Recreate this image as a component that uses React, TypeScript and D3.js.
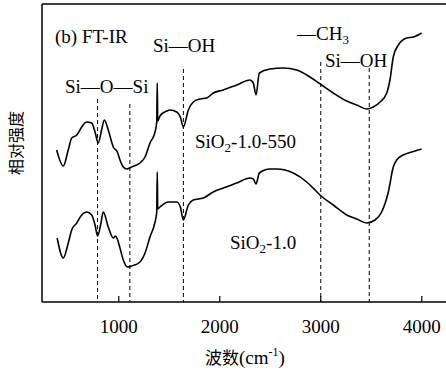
import React from "react";
import * as d3 from "d3";

// ---- data ----
const wn550 = [385, 451, 500, 534, 584, 633, 683, 732, 765, 797, 830, 857, 896, 946, 986, 1012, 1045, 1079, 1128, 1210, 1260, 1309, 1359, 1376, 1381, 1386, 1408, 1475, 1507, 1574, 1610, 1639, 1689, 1738, 1804, 1871, 1936, 2035, 2168, 2299, 2332, 2359, 2392, 2497, 2629, 2762, 2893, 3009, 3124, 3257, 3356, 3455, 3520, 3587, 3653, 3685, 3718, 3768, 3851, 3917, 3999];
const int550 = [152, 136, 152, 164, 167, 175, 180, 179, 170, 159, 172, 182, 172, 155, 150, 142, 135, 133, 135, 139, 145, 159, 170, 180, 219, 181, 186, 191, 192, 190, 185, 175, 192, 200, 203, 204, 209, 212, 217, 222, 219, 207, 229, 233, 234, 232, 225, 217, 209, 201, 197, 193, 195, 200, 209, 222, 245, 257, 264, 265, 269];

const wn10 = [390, 451, 500, 534, 584, 633, 683, 732, 765, 791, 820, 847, 896, 946, 966, 986, 1012, 1045, 1085, 1128, 1210, 1260, 1309, 1359, 1376, 1381, 1386, 1408, 1490, 1574, 1610, 1639, 1689, 1738, 1837, 1936, 2035, 2168, 2299, 2332, 2359, 2392, 2497, 2564, 2728, 2861, 2943, 2992, 3124, 3257, 3356, 3455, 3537, 3603, 3669, 3718, 3752, 3817, 3900, 3999];
const int10 = [64, 44, 59, 72, 79, 87, 90, 87, 77, 66, 77, 90, 75, 64, 66, 63, 54, 42, 35, 36, 40, 49, 65, 80, 90, 130, 93, 95, 100, 100, 95, 82, 97, 102, 104, 110, 114, 119, 124, 123, 118, 129, 133, 133, 129, 120, 112, 107, 97, 87, 83, 79, 82, 90, 110, 135, 142, 147, 150, 153];

const markerWn = [790, 1110, 1640, 3000, 3480];
const markerTop = [203, 198, 233, 240, 234];

const xTicks = [1000, 2000, 3000, 4000];

const W = 446;
const H = 371;
const M = { left: 42, top: 4, right: 446, bottom: 302 };

const SERIF = "Liberation Serif";
const CJK = "Noto Sans CJK SC";

export default function App() {
  const x = d3.scaleLinear().domain([240, 4240]).range([M.left, M.right]);
  const y = d3.scaleLinear().domain([0, 298]).range([M.bottom, M.top]);

  const line = d3
    .line<[number, number]>()
    .x((d) => x(d[0]))
    .y((d) => y(d[1]))
    .curve(d3.curveMonotoneX);

  const s550 = wn550.map((v, i) => [v, int550[i]] as [number, number]);
  const s10 = wn10.map((v, i) => [v, int10[i]] as [number, number]);

  const fs = 19;
  const sub = 13;

  return (
    <svg width={W} height={H} style={{ position: "absolute", left: 0, top: 0 }}>
      <rect x={0} y={0} width={W} height={H} fill="#fff" />

      <text x={55} y={43} fontFamily={SERIF} fontSize={fs} fill="#000">(b) FT-IR</text>
      <text x={153} y={52} fontFamily={SERIF} fontSize={fs} fill="#000">Si—OH</text>
      <text x={65} y={93} fontFamily={SERIF} fontSize={fs} fill="#000">Si—O—Si</text>
      <text x={297} y={40} fontFamily={SERIF} fontSize={fs} fill="#000">
        —CH<tspan fontFamily={SERIF} fontSize={sub} dy={4}>3</tspan>
      </text>
      <text x={325} y={67} fontFamily={SERIF} fontSize={fs} fill="#000">Si—OH</text>
      <text x={195} y={148} fontFamily={SERIF} fontSize={fs} fill="#000">
        SiO<tspan fontFamily={SERIF} fontSize={sub} dy={4}>2</tspan>
        <tspan fontFamily={SERIF} fontSize={fs} dy={-4}>-1.0-550</tspan>
      </text>
      <text x={230} y={249} fontFamily={SERIF} fontSize={fs} fill="#000">
        SiO<tspan fontFamily={SERIF} fontSize={sub} dy={4}>2</tspan>
        <tspan fontFamily={SERIF} fontSize={fs} dy={-4}>-1.0</tspan>
      </text>

      {xTicks.map((t) => (
        <text key={"l" + t} x={x(t)} y={333} textAnchor="middle" fontFamily={SERIF} fontSize={fs} fill="#000">
          {String(t)}
        </text>
      ))}

      <text x={205} y={364} fontFamily={CJK} fontSize={17} fill="#000">波数</text>
      <text x={239} y={364} fontFamily={SERIF} fontSize={fs} fill="#000">
        (cm<tspan fontFamily={SERIF} fontSize={12} dy={-8}>-1</tspan>
        <tspan fontFamily={SERIF} fontSize={fs} dy={8}>)</tspan>
      </text>
      <text
        transform="translate(22,143) rotate(-90)"
        textAnchor="middle"
        fontFamily={CJK}
        fontSize={16}
        fill="#000"
      >
        相对强度
      </text>

      {markerWn.map((v, i) => (
        <line
          key={i}
          x1={x(v)}
          x2={x(v)}
          y1={y(markerTop[i])}
          y2={M.bottom}
          stroke="#000"
          strokeWidth={1}
          strokeDasharray="4 3"
        />
      ))}
      <path d={line(s550) || ""} fill="none" stroke="#000" strokeWidth={1.6} strokeLinejoin="round" />
      <path d={line(s10) || ""} fill="none" stroke="#000" strokeWidth={1.6} strokeLinejoin="round" />

      <line x1={M.left} x2={M.left} y1={M.top} y2={M.bottom} stroke="#000" strokeWidth={1.5} />
      <line x1={M.left} x2={W} y1={M.top} y2={M.top} stroke="#000" strokeWidth={1.5} />
      <line x1={M.left} x2={W} y1={M.bottom} y2={M.bottom} stroke="#000" strokeWidth={1.5} />

      {xTicks.map((t) => (
        <line key={"t" + t} x1={x(t)} x2={x(t)} y1={M.bottom} y2={M.bottom - 6} stroke="#000" strokeWidth={1.2} />
      ))}
    </svg>
  );
}
